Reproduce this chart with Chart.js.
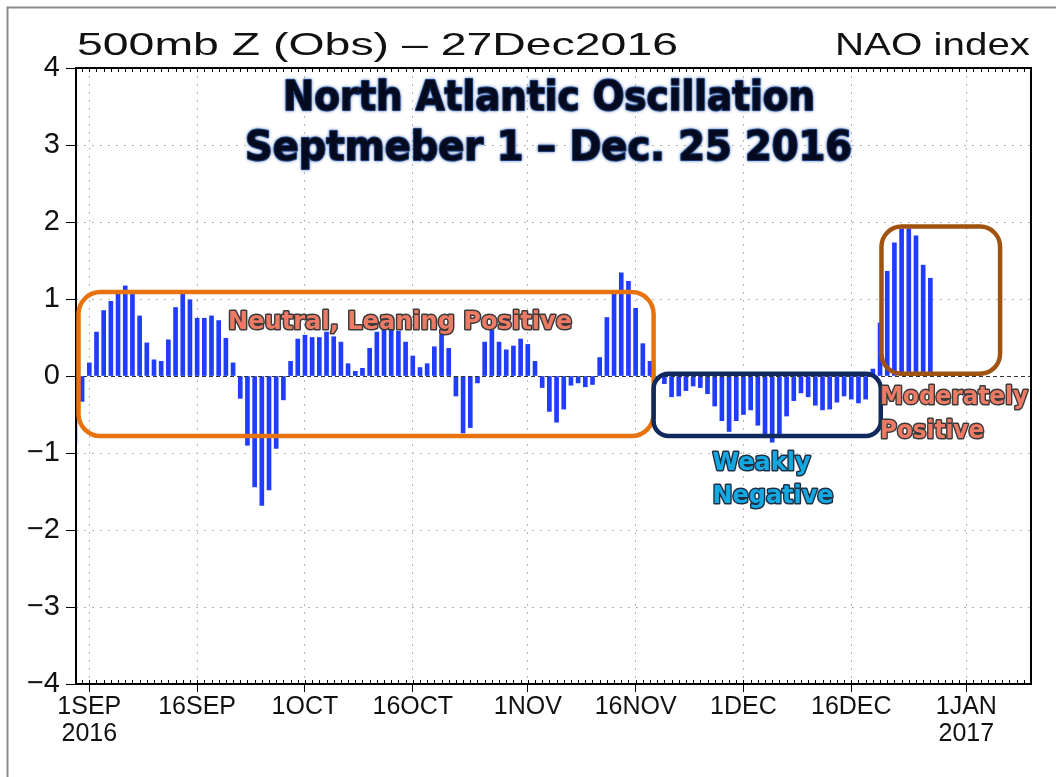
<!DOCTYPE html>
<html>
<head>
<meta charset="utf-8">
<script src="https://cdn.jsdelivr.net/npm/chart.js@4.4.0/dist/chart.umd.min.js"></script>
<style>
  html, body { margin: 0; padding: 0; background: #fff; }
  canvas { display: block; }
</style>
</head>
<body>
<canvas id="chart" width="1056" height="777"></canvas>
<script>
'use strict';

// daily NAO index. first value is 30 Aug 2016 (day -2 from 1 Sep)
const firstDay = -2;
const naoValues = [
  -0.87, -0.33, 0.17, 0.57, 0.85, 0.97, 1.09, 1.17, 1.09, 0.78,
  0.43, 0.21, 0.19, 0.47, 0.89, 1.09, 0.99, 0.75, 0.75, 0.78,
  0.72, 0.49, 0.17, -0.29, -0.90, -1.44, -1.68, -1.48, -0.94, -0.31,
  0.19, 0.48, 0.53, 0.50, 0.50, 0.57, 0.51, 0.44, 0.16, 0.06,
  0.10, 0.36, 0.57, 0.60, 0.60, 0.58, 0.44, 0.26, 0.11, 0.16,
  0.38, 0.53, 0.36, -0.26, -0.74, -0.67, -0.09, 0.44, 0.60, 0.44,
  0.34, 0.39, 0.48, 0.41, 0.19, -0.15, -0.46, -0.60, -0.43, -0.12,
  -0.09, -0.14, -0.11, 0.24, 0.76, 1.09, 1.34, 1.23, 0.88, 0.42,
  0.19, -0.05, -0.10, -0.27, -0.26, -0.19, -0.13, -0.15, -0.23, -0.39,
  -0.58, -0.72, -0.58, -0.50, -0.44, -0.64, -0.76, -0.86, -0.77, -0.52,
  -0.32, -0.22, -0.27, -0.38, -0.44, -0.43, -0.34, -0.26, -0.30, -0.35,
  -0.30, 0.09, 0.69, 1.36, 1.73, 1.91, 1.91, 1.82, 1.44, 1.27
];

// x axis: days after 1 Sep 2016
const tickDays = [0, 15, 30, 45, 61, 76, 91, 106, 122];
const tickLabels = [['1SEP', '2016'], '16SEP', '1OCT', '16OCT', '1NOV', '16NOV', '1DEC', '16DEC', ['1JAN', '2017']];
const yTicks = [-4, -3, -2, -1, 0, 1, 2, 3, 4];

// annotation boxes in data units (days, index)
const boxes = [
  { x0: -1.5, x1: 78.5, y0: 1.09, y1: -0.78, r: 22, color: '#e8730e' },
  { x0: 78.5, x1: 110.1, y0: 0.03, y1: -0.78, r: 15, color: '#102a5e' },
  { x0: 110.2, x1: 126.7, y0: 1.94, y1: 0.03, r: 20, color: '#a0520f' }
];

const points = naoValues.map((v, i) => ({ x: firstDay + i, y: v }));

function fitText(ctx, text, left, base, width, fill, stroke, lw) {
  const w = ctx.measureText(text).width;
  ctx.save();
  ctx.translate(left, base);
  ctx.scale(width / w, 1);
  if (stroke) {
    ctx.lineWidth = lw;
    ctx.strokeStyle = stroke;
    ctx.lineJoin = 'round';
    ctx.strokeText(text, 0, 0);
  }
  ctx.shadowColor = 'transparent';
  ctx.fillStyle = fill;
  ctx.fillText(text, 0, 0);
  ctx.restore();
}

const overlay = {
  id: 'overlay',
  afterDatasetsDraw(chart) {
    const { ctx, chartArea: a, scales: { x, y } } = chart;
    ctx.save();
    // zero line
    const y0 = Math.round(y.getPixelForValue(0)) + 0.5;
    ctx.strokeStyle = '#333';
    ctx.lineWidth = 1;
    ctx.setLineDash([4, 3]);
    ctx.beginPath();
    ctx.moveTo(a.left, y0);
    ctx.lineTo(a.right, y0);
    ctx.stroke();
    ctx.setLineDash([]);

    // small daily ticks on top and bottom
    ctx.strokeStyle = '#000';
    ctx.beginPath();
    for (let d = Math.ceil(x.min); d <= x.max; d++) {
      const px = Math.round(x.getPixelForValue(d)) + 0.5;
      ctx.moveTo(px, a.bottom);
      ctx.lineTo(px, a.bottom - 4);
      ctx.moveTo(px, a.top);
      ctx.lineTo(px, a.top + 4);
    }
    ctx.stroke();

    // plot frame
    ctx.lineWidth = 2;
    ctx.strokeRect(a.left, a.top, a.right - a.left, a.bottom - a.top);

    // rounded boxes
    boxes.forEach(b => {
      const l = x.getPixelForValue(b.x0), r = x.getPixelForValue(b.x1);
      const t = y.getPixelForValue(b.y0), bt = y.getPixelForValue(b.y1);
      ctx.strokeStyle = b.color;
      ctx.lineWidth = 4.5;
      ctx.beginPath();
      ctx.roundRect(l, t, r - l, bt - t, b.r);
      ctx.stroke();
    });

    // title inside the plot
    ctx.font = 'bold 41px "DejaVu Sans"';
    ctx.shadowColor = 'rgba(40,80,160,0.9)';
    ctx.shadowBlur = 3;
    fitText(ctx, 'North Atlantic Oscillation', x.getPixelForValue(26.95), y.getPixelForValue(3.45), 532, '#050a1e', '#1b3f7a', 2);
    fitText(ctx, 'Septmeber 1 \u2013 Dec. 25 2016', x.getPixelForValue(21.66), y.getPixelForValue(2.80), 607, '#050a1e', '#1b3f7a', 2);
    ctx.shadowBlur = 0;
    ctx.shadowColor = 'transparent';

    // region labels
    ctx.font = 'bold 25px "DejaVu Sans"';
    const salmon = '#ec7a64', cyan = '#14a8e2';
    fitText(ctx, 'Neutral, Leaning Positive', x.getPixelForValue(19.3), y.getPixelForValue(0.61), 344, salmon, '#3a3a3a', 3);
    fitText(ctx, 'Weakly', x.getPixelForValue(86.7), y.getPixelForValue(-1.22), 98, cyan, '#1d2f44', 3);
    fitText(ctx, 'Negative', x.getPixelForValue(86.7), y.getPixelForValue(-1.65), 121, cyan, '#1d2f44', 3);
    fitText(ctx, 'Moderately', x.getPixelForValue(110.0), y.getPixelForValue(-0.37), 148, salmon, '#3a3a3a', 3);
    fitText(ctx, 'Positive', x.getPixelForValue(110.0), y.getPixelForValue(-0.80), 104, salmon, '#3a3a3a', 3);
    ctx.restore();
  },
  afterDraw(chart) {
    const { ctx } = chart;
    ctx.save();
    // outer grey frame
    ctx.strokeStyle = '#8c8c8c';
    ctx.lineWidth = 2;
    ctx.beginPath();
    ctx.moveTo(7.5, 777);
    ctx.lineTo(7.5, 7.5);
    ctx.lineTo(1056, 7.5);
    ctx.stroke();
    // header texts
    ctx.font = '32px "Liberation Sans"';
    fitText(ctx, '500mb Z (Obs) \u2013 27Dec2016', 77, 55, 601, '#111');
    fitText(ctx, 'NAO index', 835, 55, 195, '#111');
    ctx.restore();
  }
};

new Chart(document.getElementById('chart'), {
  type: 'bar',
  data: {
    datasets: [{
      data: points,
      backgroundColor: '#1f3cff',
      barThickness: 4
    }]
  },
  options: {
    responsive: false,
    animation: false,
    devicePixelRatio: 1,
    layout: { padding: { top: 68, right: 25, left: 0, bottom: 0 } },
    plugins: { legend: { display: false }, tooltip: { enabled: false } },
    scales: {
      x: {
        type: 'linear',
        offset: false,
        min: -1.85,
        max: 131,
        afterBuildTicks: (scale) => { scale.ticks = tickDays.map(v => ({ value: v })); },
        afterFit: (scale) => { scale.height = 93; },
        ticks: {
          autoSkip: false,
          maxRotation: 0,
          padding: 1,
          color: '#111',
          font: { family: 'Liberation Sans', size: 25, lineHeight: 1.1 },
          callback: (v, i) => tickLabels[i]
        },
        grid: { offset: false, color: '#b4b4b4', tickColor: '#000', tickLength: 8, lineWidth: 1 },
        border: { display: false, dash: [2, 6] }
      },
      y: {
        min: -4,
        max: 4,
        afterBuildTicks: (scale) => { scale.ticks = yTicks.map(v => ({ value: v })); },
        afterFit: (scale) => { scale.width = 76; },
        ticks: {
          padding: 6,
          color: '#111',
          font: { family: 'Liberation Sans', size: 29 },
          callback: (v) => v < 0 ? '\u2212' + Math.abs(v) : String(v)
        },
        grid: {
          color: (c) => c.tick && c.tick.value === 0 ? 'rgba(0,0,0,0)' : '#b4b4b4',
          tickColor: '#000',
          tickLength: 10,
          lineWidth: 1
        },
        border: { display: false, dash: [2, 6] }
      }
    }
  },
  plugins: [overlay]
});
</script>
</body>
</html>
